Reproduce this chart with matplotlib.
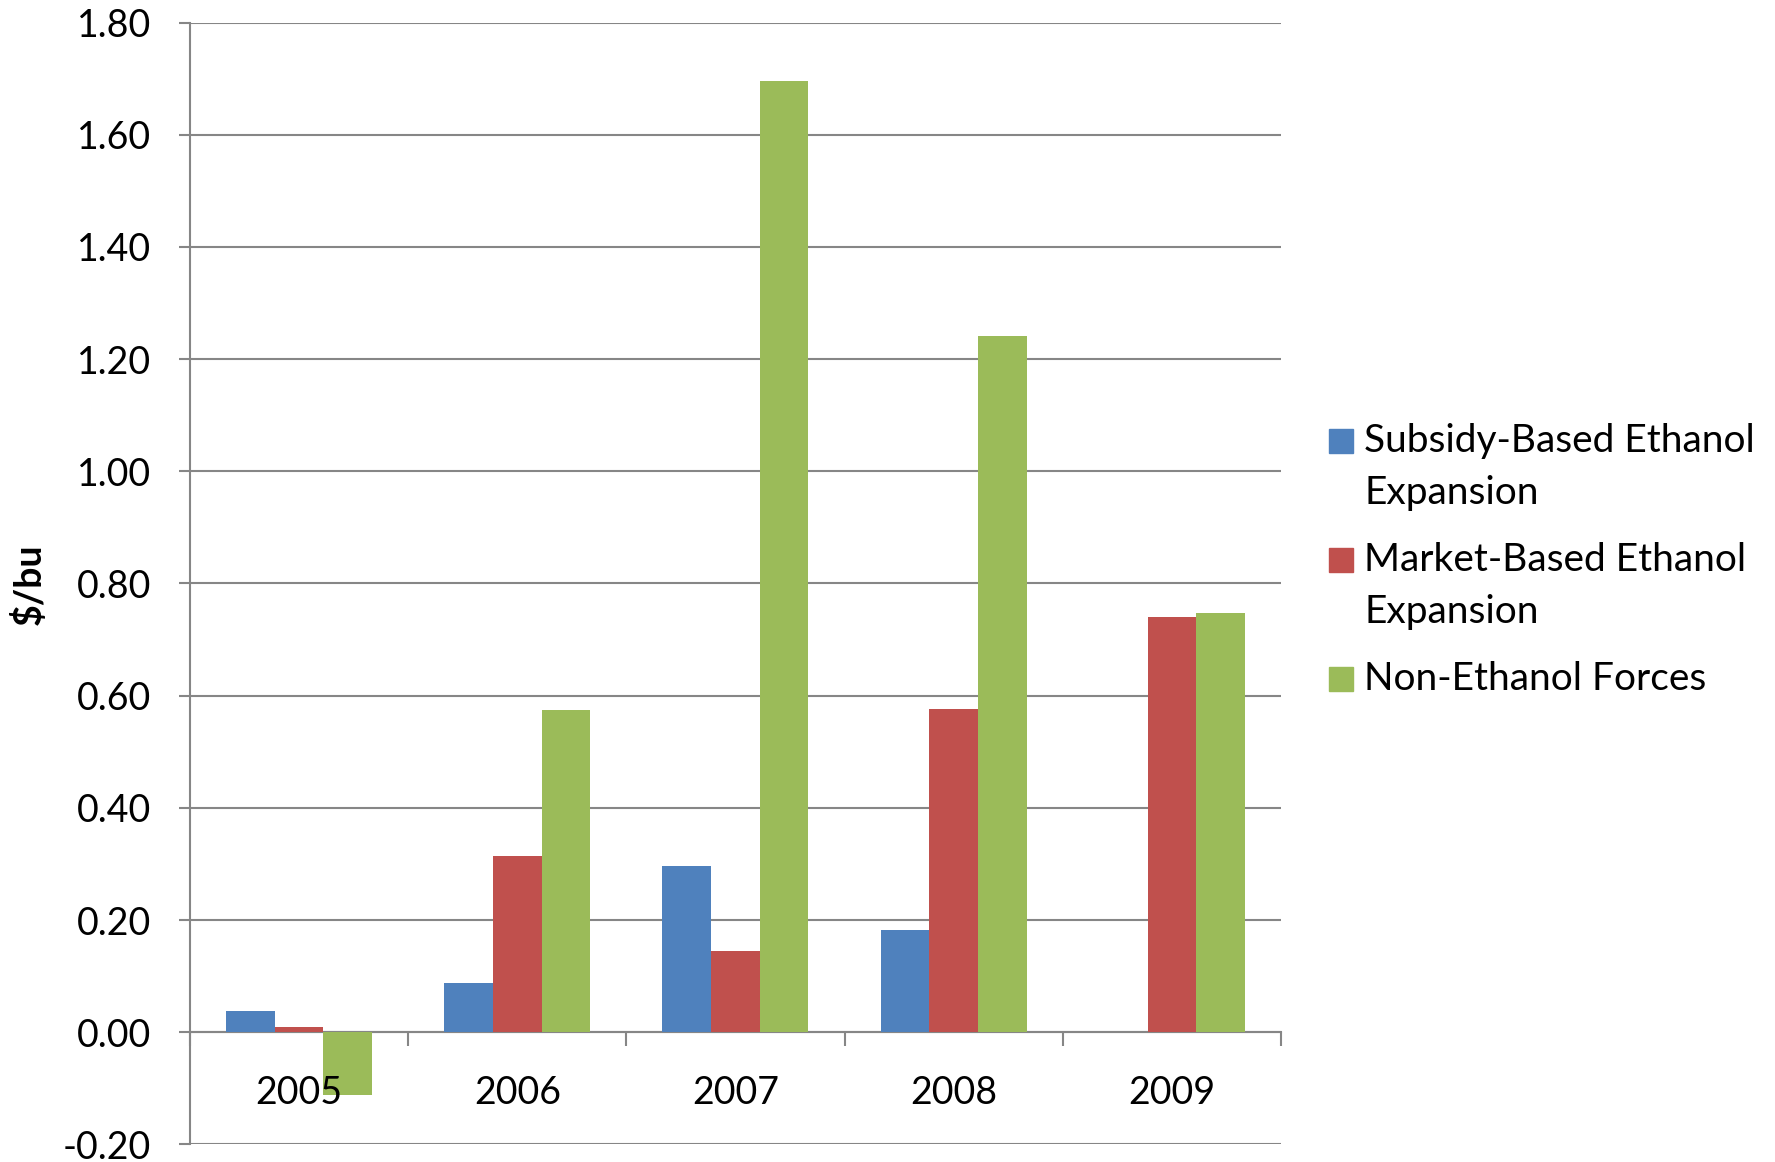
import numpy as np
import matplotlib
matplotlib.use('Agg')
import matplotlib.pyplot as plt
from matplotlib.patches import Rectangle

plt.rcParams['font.family'] = ['Lato', 'DejaVu Sans']

years = ['2005', '2006', '2007', '2008', '2009']
subsidy = [0.038, 0.087, 0.297, 0.182, 0.0]
market = [0.009, 0.315, 0.145, 0.577, 0.741]
non_ethanol = [-0.111, 0.575, 1.695, 1.241, 0.747]

series = [
    ('Subsidy-Based Ethanol\nExpansion', subsidy, '#4F81BD'),
    ('Market-Based Ethanol\nExpansion', market, '#C0504D'),
    ('Non-Ethanol Forces', non_ethanol, '#9BBB59'),
]

grey = '#868686'
W, H = 1775, 1162

fig = plt.figure(figsize=(W / 100, H / 100), dpi=100)
ax = fig.add_axes([0.107, 0.0151, 0.6147, 0.9655])

x = np.arange(len(years))
w = 0.223
for i, (name, vals, col) in enumerate(series):
    ax.bar(x + (i - 1) * w, vals, w, color=col, label=name, zorder=3)

ax.set_xlim(-0.5, len(years) - 0.5)
ax.set_ylim(-0.2, 1.8)
ax.set_yticks(np.arange(-0.2, 1.81, 0.2))
ax.set_yticklabels(['%.2f' % v for v in np.arange(-0.2, 1.81, 0.2)])
ax.yaxis.grid(True, color=grey, linewidth=1.5, zorder=0)
ax.tick_params(axis='y', labelsize=27, length=8, width=1.5, color=grey, pad=20)

# category axis sits on zero, ticks between groups
ax.spines['bottom'].set_position(('data', 0))
ax.spines['bottom'].set_color(grey)
ax.spines['bottom'].set_linewidth(1.5)
ax.spines['left'].set_color(grey)
ax.spines['left'].set_linewidth(1.5)
ax.spines['top'].set_visible(False)
ax.spines['right'].set_visible(False)
ax.set_xticks(x)
ax.set_xticklabels([])
ax.set_xticks(np.arange(-0.5, len(years), 1.0), minor=True)
ax.tick_params(axis='x', which='major', length=0)
ax.tick_params(axis='x', which='minor', length=10, width=1.5, color=grey, direction='out')

# year labels drawn over the bars
for xi, yr in zip(x, years):
    ax.text(xi, -0.108, yr, fontsize=27, ha='center', va='center', zorder=6)

fig.text(29 / W, 1 - 584 / H, '$/bu', fontsize=27, fontweight='bold',
         rotation=90, ha='center', va='center')

# legend: square aligned with first line of each label
y0 = 441
step = 52
for name, vals, col in series:
    fig.patches.append(Rectangle((1329 / W, 1 - (y0 + 12) / H), 24 / W, 24 / H,
                                 transform=fig.transFigure, color=col))
    for j, line in enumerate(name.split('\n')):
        fig.text(1364 / W, 1 - (y0 + j * step) / H, line, fontsize=28, va='center', ha='left')
    y0 += step * (name.count('\n') + 1) + 15

fig.savefig('out.png', dpi=100)
